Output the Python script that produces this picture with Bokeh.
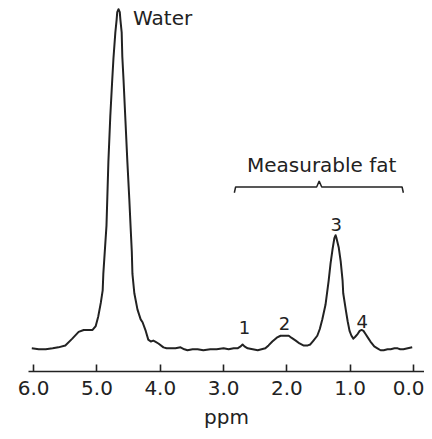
from bokeh.plotting import figure
from bokeh.models import Range1d, FixedTicker, Label, ColumnDataSource
from bokeh.embed import file_html
from bokeh.resources import INLINE

# Spectrum: chemical shift (ppm) and signal (arbitrary units)
ppm = [6.03, 5.92, 5.81, 5.70, 5.61, 5.50, 5.39, 5.29, 5.21, 5.13, 5.07, 5.02, 4.98, 4.94,
       4.91, 4.90, 4.85, 4.82, 4.79, 4.76, 4.74, 4.71, 4.69, 4.68, 4.66, 4.64, 4.63, 4.61,
       4.60, 4.58, 4.55, 4.52, 4.49, 4.47, 4.45, 4.44, 4.41, 4.36, 4.31, 4.28, 4.23, 4.19,
       4.15, 4.11, 4.08, 4.03, 3.95, 3.90, 3.84, 3.76, 3.68, 3.62, 3.57, 3.49, 3.41, 3.32,
       3.21, 3.11, 3.00, 2.92, 2.84, 2.78, 2.73, 2.70, 2.67, 2.62, 2.54, 2.46, 2.40, 2.34,
       2.29, 2.23, 2.16, 2.10, 2.04, 1.97, 1.93, 1.86, 1.80, 1.74, 1.67, 1.63, 1.58, 1.52,
       1.48, 1.44, 1.39, 1.34, 1.31, 1.28, 1.25, 1.23, 1.22, 1.18, 1.15, 1.12, 1.11, 1.07,
       1.04, 1.01, 0.98, 0.95, 0.92, 0.88, 0.85, 0.82, 0.79, 0.76, 0.71, 0.68, 0.62, 0.57,
       0.52, 0.47, 0.41, 0.36, 0.30, 0.25, 0.21, 0.16, 0.09, 0.02]
signal = [0, -1, -1, 0, 1, 3, 10, 17, 19, 19, 19, 23, 33, 47,
          60, 77, 127, 193, 240, 277, 300, 327, 340, 348, 351, 348, 340, 327,
          302, 277, 235, 193, 155, 127, 100, 77, 57, 40, 30, 27, 18, 9,
          7, 8, 7, 5, 1, 0, 0, 0, 1, -1, -2, -1, -1, -2,
          -1, -1, 0, -1, 0, 0, 2, 4, 2, 0, -1, -2, -1, 0,
          3, 7, 11, 13, 13, 13, 11, 8, 5, 3, 3, 4, 8, 13,
          20, 30, 45, 70, 88, 102, 114, 117, 115, 104, 90, 70, 57, 40,
          28, 18, 13, 10, 12, 15, 18, 19, 18, 15, 10, 7, 2, 0,
          -2, -2, -1, -1, 0, 0, -1, -1, 0, 1]

tick_values = [6, 5, 4, 3, 2, 1, 0]
tick_labels = ["6.0", "5.0", "4.0", "3.0", "2.0", "1.0", "0.0"]

peak_names = ["1", "2", "3", "4"]
peak_ppm = [2.67, 2.04, 1.22, 0.81]
peak_label_level = [22, 26, 128, 28]

water_name = "Water"
water_label_ppm = 4.43
water_label_level = 342

fat_name = "Measurable fat"
fat_label_ppm = 1.45
fat_label_level = 190
bracket_ppm = [2.83, 2.81, 1.53, 1.49, 1.45, 0.18, 0.16]
bracket_level = [161, 167, 167, 173, 167, 167, 161]

FONT = "DejaVu Sans"
INK = "#222222"

p = figure(width=424, height=431, output_backend="svg", toolbar_location=None,
           x_range=Range1d(6.082, -0.174), y_range=Range1d(-24, 360),
           min_border_left=28, min_border_right=0, min_border_top=0, min_border_bottom=47)
p.outline_line_color = None
p.grid.visible = False
p.yaxis.visible = False
p.background_fill_color = "white"
p.border_fill_color = "white"

src = ColumnDataSource(dict(x=ppm, y=signal))
p.line("x", "y", source=src, line_color=INK, line_width=2.0, line_join="round")

p.line(bracket_ppm, bracket_level, line_color=INK, line_width=1.5)

ax = p.xaxis[0]
ax.ticker = FixedTicker(ticks=tick_values)
ax.major_label_overrides = {v: l for v, l in zip(tick_values, tick_labels)}
ax.major_tick_in = 7
ax.major_tick_out = 0
ax.minor_tick_line_color = None
ax.axis_line_width = 1.6
ax.axis_line_color = INK
ax.major_tick_line_width = 1.6
ax.major_tick_line_color = INK
ax.major_label_text_font = FONT
ax.major_label_text_font_size = "20px"
ax.major_label_text_color = INK
ax.major_label_standoff = 9
ax.axis_label = "ppm"
ax.axis_label_text_font = FONT
ax.axis_label_text_font_size = "20px"
ax.axis_label_text_font_style = "normal"
ax.axis_label_text_color = INK
ax.axis_label_standoff = 7

for name, x, y in zip(peak_names, peak_ppm, peak_label_level):
    p.add_layout(Label(x=x, y=y, text=name, text_font=FONT, text_font_size="18px",
                       text_color=INK, text_align="center", text_baseline="middle"))

p.add_layout(Label(x=water_label_ppm, y=water_label_level, text=water_name, text_font=FONT,
                   text_font_size="20px", text_color=INK, text_align="left",
                   text_baseline="middle"))
p.add_layout(Label(x=fat_label_ppm, y=fat_label_level, text=fat_name, text_font=FONT,
                   text_font_size="20px", text_color=INK, text_align="center",
                   text_baseline="middle"))

open("out.html", "w").write(file_html(p, INLINE))
